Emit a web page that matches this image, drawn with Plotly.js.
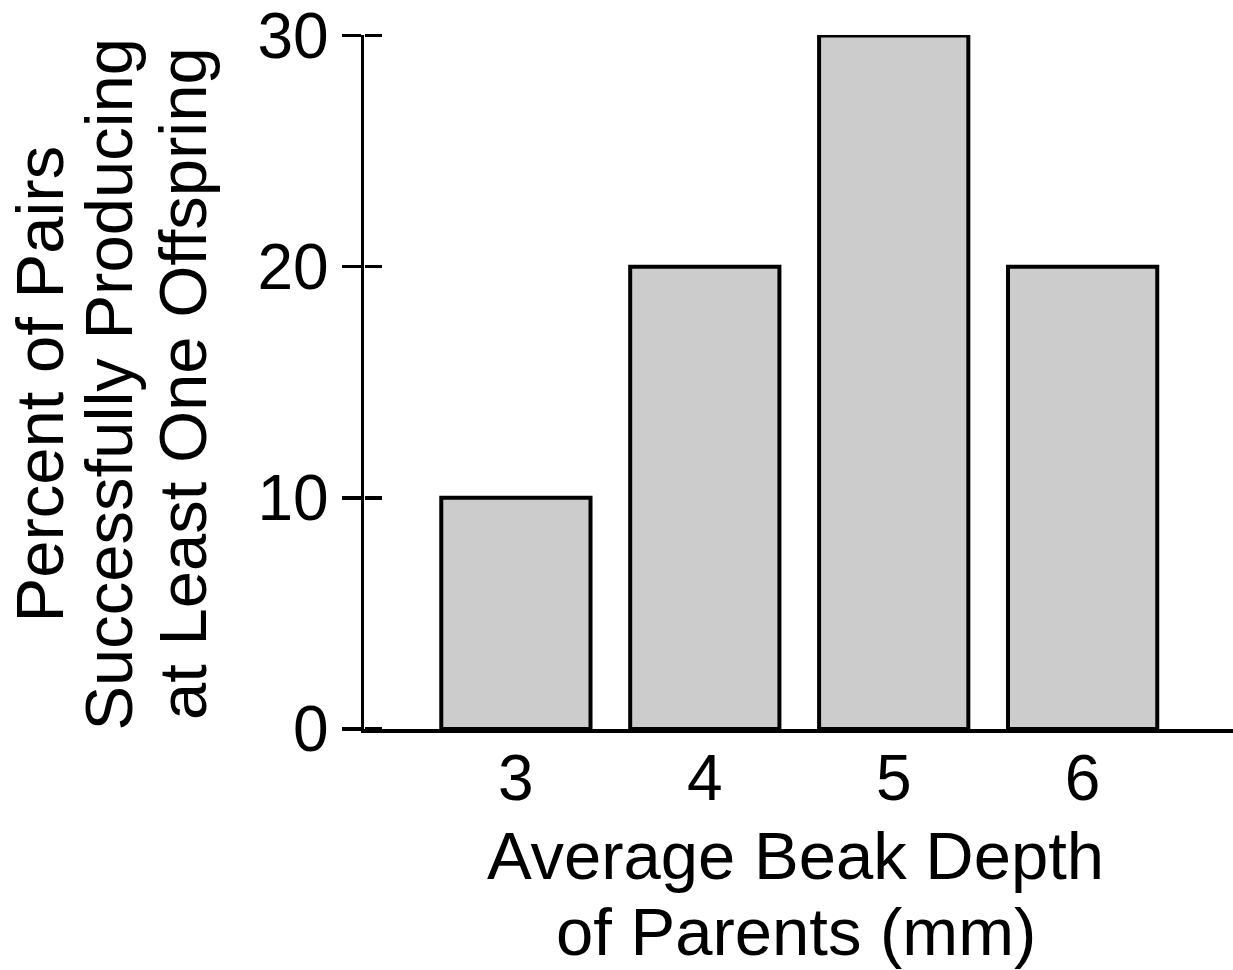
<!DOCTYPE html>
<html>
<head>
<meta charset="utf-8">
<script src="https://cdn.plot.ly/plotly-3.0.1.min.js"></script>
<style>
  html, body { margin: 0; padding: 0; background: #fff; }
  #chart { width: 1233px; height: 970px; }
</style>
</head>
<body>
<div id="chart"></div>
<script>
// data
const beakDepth = [3, 4, 5, 6];
const percentPairs = [10, 20, 30, 20];
const yTicks = [0, 10, 20, 30];
const yTitleLines = ['Percent of Pairs', 'Successfully Producing', 'at Least One Offspring'];
const xTitleLines = ['Average Beak Depth', 'of Parents (mm)'];

const FONT = 'Liberation Sans, Arial, Helvetica, sans-serif';
const Y_RANGE = [0, 30.02];

const traces = [
    {
        x: beakDepth,
        y: percentPairs,
        type: 'bar',
        marker: { color: '#cccccc', line: { color: '#000', width: 4 } },
        cliponaxis: false,
        hoverinfo: 'x+y'
    },
    // invisible copy so the second y axis (right half of each tick) gets drawn
    {
        x: beakDepth,
        y: percentPairs,
        yaxis: 'y2',
        type: 'scatter',
        mode: 'markers',
        marker: { opacity: 0 },
        hoverinfo: 'skip',
        showlegend: false
    }
];

// y title: three rotated lines, x title: two lines
const yLineX = [-0.3735, -0.2940, -0.2094];
const xLineY = [-0.1827, -0.2922];
const annotations = yTitleLines.map((t, i) => ({
    text: t, xref: 'paper', yref: 'paper', x: yLineX[i], y: 0.497,
    xanchor: 'center', yanchor: 'middle', textangle: -90, showarrow: false,
    font: { family: FONT, size: 67, color: '#000' }
})).concat(xTitleLines.map((t, i) => ({
    text: t, xref: 'paper', yref: 'paper', x: 0.4971, y: xLineY[i],
    xanchor: 'center', yanchor: 'middle', showarrow: false,
    font: { family: FONT, size: 67, color: '#000' }
})));

const layout = {
    width: 1233,
    height: 970,
    margin: { l: 364, r: 0, t: 35, b: 241 },
    paper_bgcolor: '#fff',
    plot_bgcolor: '#fff',
    showlegend: false,
    bargap: 0.21,
    font: { family: FONT, color: '#000' },
    xaxis: {
        range: [2.196, 6.796],
        tickvals: beakDepth,
        ticktext: beakDepth.map(String),
        ticks: '',
        ticklabelstandoff: -9,
        showgrid: false,
        zeroline: false,
        showline: true,
        linecolor: '#000',
        linewidth: 3.5,
        tickfont: { family: FONT, size: 64, color: '#000' }
    },
    yaxis: {
        range: Y_RANGE,
        tickvals: yTicks,
        ticks: 'outside',
        ticklen: 19,
        tickwidth: 3.5,
        tickcolor: '#000',
        ticklabeloverflow: 'allow',
        showgrid: false,
        zeroline: false,
        showline: true,
        linecolor: '#000',
        linewidth: 3.5,
        tickfont: { family: FONT, size: 64, color: '#000' }
    },
    yaxis2: {
        overlaying: 'y',
        anchor: 'free',
        position: 0,
        side: 'right',
        range: Y_RANGE,
        tickvals: yTicks,
        ticks: 'outside',
        ticklen: 17,
        tickwidth: 3.5,
        tickcolor: '#000',
        showticklabels: false,
        showgrid: false,
        zeroline: false,
        showline: false
    },
    annotations: annotations
};

Plotly.newPlot('chart', traces, layout, { displayModeBar: false, staticPlot: true });
</script>
</body>
</html>
